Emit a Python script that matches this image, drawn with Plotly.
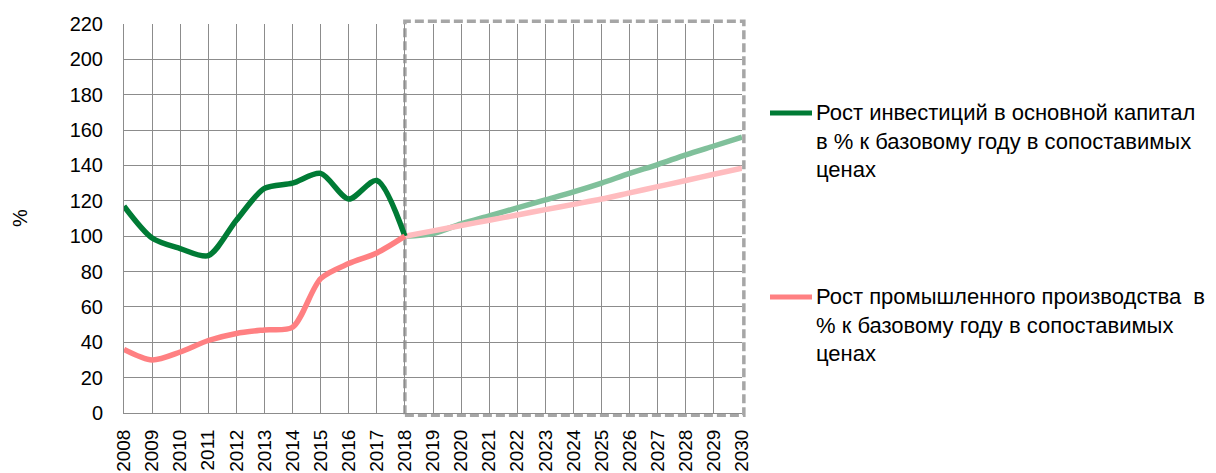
import plotly.graph_objects as go

years_hist = list(range(2008, 2019))
years_fc = list(range(2018, 2031))

invest_hist = [117, 99, 93, 89, 109, 127, 130, 135.5, 121, 131.5, 100]
prod_hist = [36, 30, 34.5, 41, 45, 47, 48.5, 76, 84.5, 90.5, 100]

invest_fc = [100, 101.5, 107, 111.5, 116, 120.5, 125, 130, 135.5, 140.5, 146, 151, 156]
prod_fc = [100, 103, 106, 109, 112, 115, 118, 121, 124.5, 128, 131.5, 135, 138.5]

y_ticks = list(range(0, 221, 20))

name_invest = "Рост инвестиций в основной капитал<br>в % к базовому году в сопоставимых<br>ценах"
name_prod = "Рост промышленного производства  в<br>% к базовому году в сопоставимых<br>ценах"

GREEN = "#007b35"
PINK = "#ff8082"
GREEN_FC = "#80c09b"
PINK_FC = "#ffbcbf"
FONT = "Liberation Sans, Arial, sans-serif"

OFF = 8  # page body margin
W, H = 1208, 465
# target plot area in page pixels: x 124..742, y 24..413
L = 124 - OFF
T = 24 - OFF
R = W - (742 - OFF)
B = H - (413 - OFF)
PW = W - L - R
PH = H - T - B


def px(x):
    return (x - OFF - L) / PW


def py(y):
    return (H - B - (y - OFF)) / PH


fig = go.Figure()
fig.add_trace(go.Scatter(x=years_fc, y=invest_fc, mode="lines",
                         line=dict(color=GREEN_FC, width=5.5, shape="spline", smoothing=0.8),
                         showlegend=False))
fig.add_trace(go.Scatter(x=years_fc, y=prod_fc, mode="lines",
                         line=dict(color=PINK_FC, width=5.5, shape="spline", smoothing=0.8),
                         showlegend=False))
fig.add_trace(go.Scatter(x=years_hist, y=invest_hist, mode="lines",
                         line=dict(color=GREEN, width=5.5, shape="spline", smoothing=0.8),
                         showlegend=False))
fig.add_trace(go.Scatter(x=years_hist, y=prod_hist, mode="lines",
                         line=dict(color=PINK, width=5.5, shape="spline", smoothing=0.8),
                         showlegend=False))

fc_x0 = (years_fc[0] - years_hist[0]) / (years_fc[-1] - years_hist[0])
fig.add_shape(type="rect", xref="paper", yref="paper",
              x0=fc_x0, x1=1.003, y0=-0.006, y1=1.007,
              fillcolor="rgba(255,255,255,0.55)",
              line=dict(color="#a6a6a6", width=3.5, dash="9px,4px"),
              layer="between")

# legend
for ycen, col, txt in [(113, GREEN, name_invest), (297, PINK, name_prod)]:
    fig.add_shape(type="line", xref="paper", yref="paper",
                  x0=px(770), x1=px(812), y0=py(ycen), y1=py(ycen),
                  line=dict(color=col, width=5))
    fig.add_annotation(xref="paper", yref="paper", x=px(814), y=py(ycen - 15),
                       xanchor="left", yanchor="top", align="left",
                       text=txt, showarrow=False,
                       font=dict(family=FONT, size=22, color="#000000"))

fig.add_annotation(xref="paper", yref="paper", x=px(20), y=py(218),
                   text="%", textangle=-90, showarrow=False,
                   xanchor="center", yanchor="middle",
                   font=dict(family=FONT, size=20, color="#000000"))

fig.update_layout(
    width=W, height=H,
    margin=dict(l=L, r=R, t=T, b=B),
    plot_bgcolor="white", paper_bgcolor="white",
    font=dict(family=FONT, size=20, color="#000000"),
    xaxis=dict(range=[2008, 2030], tickmode="array", tickvals=list(range(2008, 2031)),
               ticktext=[str(v) for v in range(2008, 2031)], tickangle=-90,
               tickfont=dict(size=19),
               showgrid=True, gridcolor="#8c8c8c", gridwidth=1,
               showline=True, linecolor="#8c8c8c", linewidth=1,
               ticks="", ticklabelstandoff=8, zeroline=False, automargin=False),
    yaxis=dict(range=[0, 220], tickmode="array", tickvals=y_ticks,
               showgrid=True, gridcolor="#8c8c8c", gridwidth=1,
               showline=True, linecolor="#8c8c8c", linewidth=1,
               ticks="", ticklabelstandoff=16, zeroline=False, automargin=False),
)

fig.write_html("out.html")
